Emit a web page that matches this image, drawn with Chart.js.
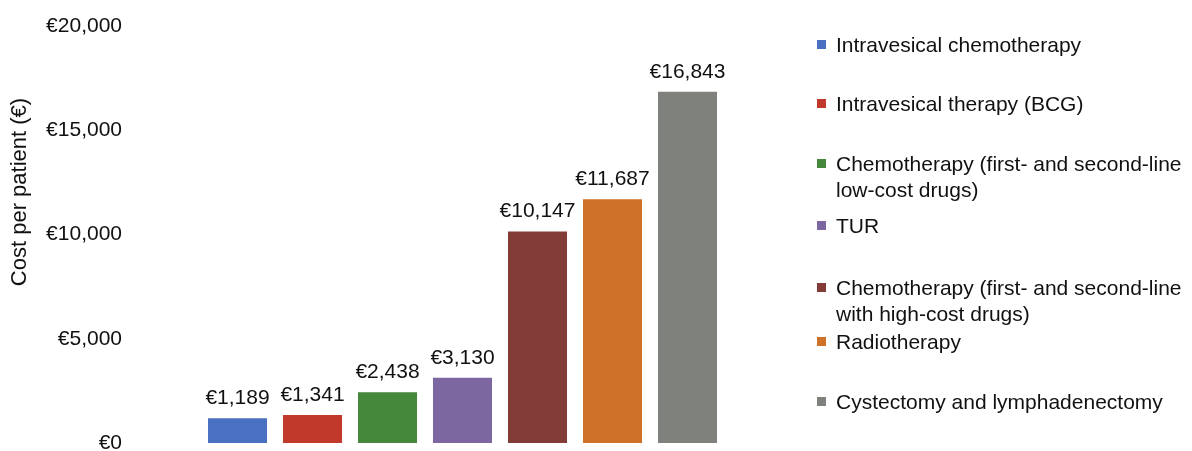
<!DOCTYPE html>
<html>
<head>
<meta charset="utf-8">
<script src="https://cdn.jsdelivr.net/npm/chart.js@4"></script>
<style>
  html, body { margin: 0; padding: 0; background: #fff; }
  #wrap { position: relative; width: 1192px; height: 451px; }
  canvas { position: absolute; left: 0; top: 0; }
  .leg { position: absolute; left: 817px; font-family: "Liberation Sans", Arial, sans-serif; font-size: 21px; line-height: 26px; color: #111; }
  .leg .sw { position: absolute; left: 0; top: 8px; width: 9px; height: 9px; }
  .leg .tx { position: absolute; left: 19px; top: 0; white-space: nowrap; }
</style>
</head>
<body>
<div id="wrap">
  <canvas id="c" width="1192" height="451" style="width:1192px;height:451px"></canvas>
  <div id="legend"></div>
</div>
<script>
const categories = [
  "Intravesical chemotherapy",
  "Intravesical therapy (BCG)",
  "Chemotherapy (first- and second-line\nlow-cost drugs)",
  "TUR",
  "Chemotherapy (first- and second-line\nwith high-cost drugs)",
  "Radiotherapy",
  "Cystectomy and lymphadenectomy"
];
const costs = [1189, 1341, 2438, 3130, 10147, 11687, 16843];
const colors = ["#4a70c2", "#c0392b", "#45873b", "#7d67a0", "#833b38", "#d07128", "#7f827c"];
const yTicks = [0, 5000, 10000, 15000, 20000];
const yTitle = "Cost per patient (€)";
const legendTops = [32, 91, 151, 213, 275, 329, 389];

const FONT = '"Liberation Sans", Arial, sans-serif';
const fmt = v => "€" + v.toLocaleString("en-US");

const legEl = document.getElementById("legend");
categories.forEach((c, i) => {
  const d = document.createElement("div");
  d.className = "leg";
  d.style.top = legendTops[i] + "px";
  const sw = document.createElement("div");
  sw.className = "sw";
  sw.style.background = colors[i];
  const tx = document.createElement("div");
  tx.className = "tx";
  tx.innerHTML = c.replace("\n", "<br>");
  d.appendChild(sw); d.appendChild(tx);
  legEl.appendChild(d);
});

const valueLabels = {
  id: "valueLabels",
  afterDatasetsDraw(chart) {
    const ctx = chart.ctx;
    const meta = chart.getDatasetMeta(0);
    ctx.save();
    ctx.font = '21px ' + FONT;
    ctx.fillStyle = "#111";
    ctx.textAlign = "center";
    ctx.textBaseline = "alphabetic";
    meta.data.forEach((bar, i) => {
      ctx.fillText(fmt(costs[i]), bar.x, bar.y - 14);
    });
    // y-axis title (positioned as in the reference, above the axis centre)
    ctx.translate(20, 192);
    ctx.rotate(-Math.PI / 2);
    ctx.font = '22px ' + FONT;
    ctx.textBaseline = "middle";
    ctx.fillText(yTitle, 0, 0);
    ctx.restore();
  }
};

new Chart(document.getElementById("c"), {
  type: "bar",
  data: {
    labels: categories,
    datasets: [{
      data: costs,
      backgroundColor: colors,
      borderWidth: 0,
      barPercentage: 0.787,
      categoryPercentage: 1.0
    }]
  },
  options: {
    responsive: false,
    maintainAspectRatio: false,
    animation: false,
    layout: { padding: { left: 0, right: 467, top: 26, bottom: 8 } },
    plugins: { legend: { display: false }, tooltip: { enabled: false } },
    scales: {
      x: { display: false },
      y: {
        min: 0, max: 20000,
        afterFit(scale) { scale.width = 200; scale.paddingTop = 0; scale.paddingBottom = 0; },
        afterBuildTicks(scale) { scale.ticks = yTicks.map(v => ({ value: v })); },
        grid: { display: false, drawTicks: false },
        border: { display: false },
        ticks: {
          padding: 78,
          color: "#111",
          font: { family: FONT, size: 21 },
          callback: v => fmt(v)
        },
        title: { display: false }
      }
    }
  },
  plugins: [valueLabels]
});
</script>
</body>
</html>
